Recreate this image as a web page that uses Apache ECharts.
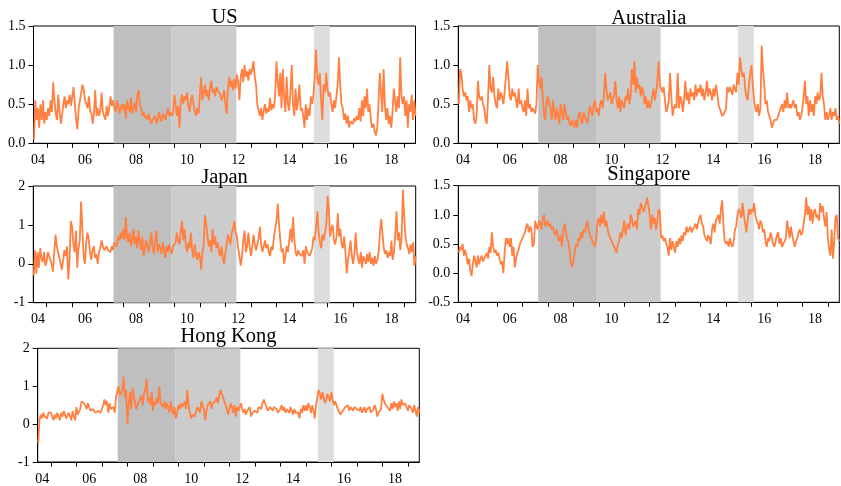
<!DOCTYPE html>
<html>
<head>
<meta charset="utf-8">
<script src="https://cdn.jsdelivr.net/npm/echarts@6/dist/echarts.min.js"></script>
<style>
html,body{margin:0;padding:0;background:#fff;}
#chart{width:841px;height:486px;}
</style>
</head>
<body>
<div id="chart"></div>
<script>
// ---- data ----
const startYear = 2004.5;   // first observation (mid-2004)
const stepYear = 0.05;      // observation spacing in years
const panelTitles = ['US', 'Australia', 'Japan', 'Singapore', 'Hong Kong'];

const usValues = [
  0.05,0.55,0.3,0.45,0.2, 0.5,0.3,0.55,0.25,0.4,
  0.3,0.45,0.35,0.55,0.4, 0.78,0.55,0.38,0.3,0.62, 0.42,0.25,0.35,0.5,0.6, 0.45,0.55,0.5,0.62,0.48,
  0.6,0.72,0.5,0.3,0.18, 0.45,0.55,0.65,0.75,0.68, 0.55,0.5,0.45,0.6,0.42, 0.38,0.25,0.38,0.68,0.35,
  0.45,0.35,0.42,0.65,0.4, 0.35,0.3,0.48,0.35,0.45, 0.6,0.48,0.55,0.45,0.4, 0.55,0.48,0.38,0.45,0.5,
  0.42,0.5,0.32,0.55,0.45, 0.4,0.58,0.38,0.45,0.52, 0.4,0.62,0.68,0.5,0.45, 0.35,0.4,0.32,0.35,0.3,
  0.38,0.3,0.25,0.3,0.28, 0.35,0.25,0.3,0.4,0.32, 0.28,0.38,0.35,0.3,0.38, 0.45,0.35,0.4,0.35,0.38,
  0.62,0.5,0.35,0.48,0.2, 0.55,0.62,0.5,0.6,0.55, 0.65,0.48,0.4,0.55,0.62, 0.5,0.4,0.35,0.45,0.38,
  0.62,0.85,0.55,0.65,0.75, 0.6,0.68,0.55,0.72,0.8, 0.65,0.7,0.6,0.72,0.68, 0.7,0.62,0.55,0.6,0.68,
  0.5,0.38,0.7,0.85,0.72, 0.8,0.68,0.82,0.7,0.88, 0.78,0.55,0.85,0.95,0.78, 1.0,0.85,0.92,0.8,0.95,
  0.88,0.95,1.05,0.85,0.75, 0.5,0.42,0.35,0.45,0.3, 0.42,0.5,0.38,0.45,0.4, 0.58,0.42,0.5,0.45,0.6,
  1.05,0.8,0.6,0.9,0.45, 0.95,0.6,0.4,0.85,0.5, 0.42,0.68,1.0,0.5,0.35, 0.7,0.42,0.55,0.75,0.42,
  0.45,0.35,0.2,0.5,0.3, 0.45,0.35,0.6,0.5,0.62, 0.85,1.2,0.85,0.75,0.9, 0.55,0.3,0.75,0.65,0.9,
  0.7,0.6,0.65,0.5,0.4, 0.55,0.45,0.6,0.75,1.1, 0.75,0.5,0.45,0.3,0.38, 0.25,0.35,0.2,0.28,0.3,
  0.25,0.32,0.28,0.35,0.3, 0.45,0.28,0.55,0.35,0.6, 0.45,0.7,0.4,0.5,0.3, 0.2,0.25,0.15,0.1,0.2,
  0.5,0.9,0.65,0.4,0.95, 0.5,0.3,0.45,0.25,0.35, 0.2,0.4,0.7,0.55,0.4, 0.6,0.45,1.1,0.6,0.5,
  0.6,0.35,0.55,0.2,0.5, 0.4,0.62,0.3,0.55,0.35
];

const australiaValues = [
  0.5,0.95,0.9,0.7,0.6, 0.65,0.55,0.6,0.4,0.55,
  0.45,0.5,0.3,0.25,0.35, 0.8,0.6,0.55,0.6,0.5, 0.45,0.3,0.25,0.6,1.0, 0.7,0.65,0.85,0.6,0.5,
  0.45,0.7,0.55,0.65,0.6, 0.5,0.65,0.85,1.05,0.85, 0.6,0.55,0.7,0.6,0.65, 0.55,0.45,0.7,0.5,0.55,
  0.45,0.4,0.55,0.35,0.7, 0.45,0.5,0.4,0.45,0.45, 0.38,0.5,1.0,0.8,0.7, 0.85,0.6,0.35,0.3,0.55,
  0.6,0.5,0.45,0.3,0.55, 0.4,0.3,0.45,0.35,0.25, 0.5,0.4,0.3,0.5,0.4, 0.3,0.35,0.25,0.22,0.3,
  0.25,0.2,0.3,0.2,0.35, 0.4,0.3,0.25,0.4,0.35, 0.3,0.25,0.38,0.48,0.4, 0.35,0.5,0.55,0.4,0.45,
  0.35,0.5,0.55,0.45,0.6, 0.9,0.7,0.55,0.6,0.65, 0.5,0.55,0.6,0.8,0.55, 0.45,0.6,0.4,0.55,0.5,
  0.45,0.6,0.55,0.7,0.5, 0.6,0.95,0.75,1.05,0.65, 0.85,0.7,0.75,0.6,0.72, 0.65,0.5,0.6,0.45,0.55,
  0.45,0.5,0.6,0.7,0.55, 0.65,0.8,1.05,0.75,0.7, 0.65,0.72,0.55,0.4,0.45, 0.55,0.9,0.6,0.35,0.45,
  0.5,0.45,0.9,0.45,0.6, 0.55,0.4,0.55,0.8,0.55, 0.65,0.5,0.7,0.6,0.65, 0.55,0.75,0.6,0.7,0.65,
  0.75,0.6,0.7,0.55,0.65, 0.8,0.6,0.7,0.65,0.55, 0.7,0.6,0.75,0.65,0.5, 0.45,0.4,0.35,0.35,0.4,
  0.45,0.72,0.65,0.72,0.7, 0.62,0.75,0.7,0.65,0.9, 0.75,1.1,0.95,0.85,0.9, 0.7,0.6,0.55,0.75,0.9,
  1.0,0.75,0.55,0.45,0.4, 0.5,0.35,0.45,1.25,0.95, 0.75,0.5,0.55,0.4,0.35, 0.3,0.2,0.25,0.3,0.28,
  0.3,0.35,0.4,0.45,0.5, 0.4,0.55,0.45,0.65,0.45, 0.5,0.45,0.5,0.55,0.45, 0.5,0.35,0.4,0.3,0.35,
  0.45,0.6,0.8,0.5,0.6, 0.35,0.55,0.4,0.5,0.35, 0.6,0.5,0.65,0.55,0.6, 0.9,0.6,0.5,0.3,0.4,
  0.3,0.35,0.45,0.3,0.4, 0.35,0.45,0.3,0.35,0.25
];

const japanValues = [
  -0.3,0.35,-0.25,0.3,-0.1, 0.4,0.15,0.05,0.3,-0.05,
  0.05,0.3,0.35,0.1,0.0, -0.2,0.3,0.75,0.45,0.3, 0.15,0.0,-0.15,0.1,0.35, 0.2,0.45,-0.4,0.1,1.1,
  0.95,0.5,0.3,0.85,-0.1, 0.4,0.6,1.6,0.9,0.2, 0.0,0.55,0.8,0.65,0.3, 0.1,0.35,0.45,0.15,0.25,
  0.0,0.3,0.4,0.6,0.55, 0.35,0.3,0.45,0.35,0.4, 0.3,0.45,0.35,0.55,0.5, 0.45,0.7,0.6,0.8,0.65,
  0.9,0.6,1.2,0.7,0.55, 0.8,0.45,0.65,0.9,0.5, 0.7,0.4,0.85,0.55,0.35, 0.7,0.2,0.4,0.6,0.45,
  0.3,0.55,0.8,0.4,0.25, 0.6,0.85,0.3,0.5,0.4, 0.25,0.55,0.35,0.15,0.45, 0.3,0.5,0.35,0.25,0.45,
  0.4,0.55,0.8,0.6,0.5, 0.8,1.1,0.6,0.9,0.5, 0.3,0.55,0.4,0.8,0.35, 0.15,0.5,0.25,0.1,0.3,
  0.2,-0.15,0.3,0.5,1.25, 1.0,0.7,0.45,0.6,0.3, 0.9,0.5,0.7,0.4,0.55, 0.3,0.2,0.45,0.15,0.0,
  0.3,0.5,0.75,0.6,0.5, 0.8,0.9,1.1,0.8,0.7, 0.4,0.2,-0.05,0.2,0.6, 0.85,0.3,0.45,0.8,0.45,
  0.2,0.45,0.75,0.5,0.35, 0.4,0.65,0.95,0.5,0.3, 0.45,0.6,0.4,0.5,0.3, 0.2,0.45,0.35,0.7,0.9,
  1.1,1.55,1.0,0.6,0.3, 0.4,0.0,0.2,0.45,0.3, 0.6,0.9,0.55,1.2,0.6, 0.3,0.2,0.35,0.25,0.3,
  0.2,0.35,0.0,0.45,0.3, 0.35,0.2,0.3,0.4,0.7, 0.6,0.95,1.35,0.8,0.55, 0.4,0.75,0.6,0.55,1.0,
  1.75,1.4,0.7,0.9,1.0, 0.6,0.5,0.7,1.3,0.7, 0.9,0.5,0.4,0.7,0.3, -0.25,0.1,0.3,0.6,0.2,
  0.0,0.25,0.8,0.3,0.1, 0.0,0.3,-0.1,0.2,0.1, 0.0,0.25,0.05,0.3,0.0, 0.15,-0.05,0.2,0.0,0.1,
  0.3,0.8,1.15,1.2,0.4, 0.25,0.35,0.15,0.3,0.2, 0.6,0.1,0.3,0.75,1.35, 0.6,0.8,0.35,0.7,1.9,
  1.2,0.7,0.5,0.4,0.25, 0.5,0.3,0.55,-0.05,0.2
];

const singaporeValues = [
  0.35,0.45,0.4,0.5,0.3, 0.4,0.3,0.15,0.25,0.05,
  -0.05,0.15,0.3,0.2,0.1, 0.3,0.15,0.25,0.3,0.2, 0.25,0.3,0.35,0.25,0.45, 0.35,0.7,0.45,0.35,0.4,
  0.3,0.35,0.25,0.15,0.2, 0.0,0.35,0.6,0.5,0.6, 0.45,0.6,0.3,0.45,0.1, 0.25,0.35,0.4,0.5,0.55,
  0.6,0.65,0.7,0.8,0.85, 0.7,0.8,0.75,0.45,0.5, 0.9,0.8,0.75,0.9,0.85, 0.75,0.95,1.0,0.8,0.85,
  0.9,0.8,0.85,0.75,0.8, 0.7,0.65,0.75,0.6,0.55, 0.65,0.45,0.7,0.85,0.75, 0.6,0.55,0.4,0.2,0.1,
  0.2,0.35,0.5,0.45,0.6, 0.55,0.7,0.6,0.75,0.7, 0.8,0.9,0.75,0.65,0.6, 0.55,0.5,0.45,0.6,0.9,
  0.95,0.8,1.0,0.85,1.05, 0.8,0.9,0.75,0.65,0.6, 0.55,0.5,0.45,0.4,0.35, 0.5,0.55,0.7,0.6,0.75,
  0.9,0.65,0.8,0.85,0.75, 1.0,0.95,0.8,0.85,0.9, 0.75,1.1,1.0,1.2,1.15, 1.05,1.1,1.2,1.3,1.15,
  1.0,0.75,1.0,0.85,0.95, 0.75,0.9,1.1,1.05,0.6, 0.65,0.55,0.6,0.5,0.45, 0.3,0.6,0.4,0.55,0.45,
  0.35,0.55,0.45,0.6,0.5, 0.65,0.55,0.7,0.65,0.8, 0.7,0.75,0.8,0.7,0.75, 0.8,0.85,0.75,0.85,0.95,
  1.0,0.85,0.8,0.65,0.6, 0.55,0.65,0.6,0.5,0.75, 0.85,0.7,0.9,0.95,1.0, 0.85,1.1,1.25,0.8,0.55,
  0.5,0.55,0.45,0.6,0.5, 0.45,0.55,0.75,0.8,1.0, 1.1,1.05,0.95,1.2,1.0, 0.85,0.7,0.9,1.1,1.0,
  1.1,1.05,1.2,1.0,0.9, 0.85,0.75,0.9,0.85,0.7, 0.75,0.55,0.45,0.6,0.55, 0.7,0.6,0.5,0.45,0.55,
  0.65,0.7,0.5,0.6,0.45, 0.5,0.55,0.6,0.9,0.75, 0.6,0.8,0.65,0.55,0.45, 0.55,0.6,0.7,0.75,0.65,
  0.7,0.85,1.0,1.3,1.0, 1.15,0.9,1.1,0.85,1.05, 1.1,0.95,1.0,0.9,1.2, 1.05,1.15,0.95,0.8,1.05,
  0.6,0.4,0.3,0.75,0.25, 0.55,0.95,1.0,0.6,0.55
];

const hongKongValues = [
  -0.5,0.1,0.25,0.15,0.3, 0.2,0.25,0.15,0.3,0.25,
  0.3,0.2,0.1,0.25,0.15, 0.3,0.25,0.1,0.3,0.2, 0.35,0.25,0.15,0.1,0.3, 0.2,0.1,0.35,0.2,0.1,
  0.45,0.25,0.3,0.4,0.6, 0.65,0.55,0.5,0.4,0.55, 0.45,0.35,0.3,0.4,0.45, 0.3,0.25,0.35,0.4,0.3,
  0.25,0.5,0.65,0.5,0.6, 0.3,0.55,0.4,0.35,0.45, 0.3,0.7,0.85,1.0,0.75, 0.8,0.9,1.25,0.7,0.9,
  0.0,0.5,0.85,0.4,0.95, 1.0,0.55,0.4,0.35,0.6, 0.65,0.75,0.5,0.8,0.9, 1.2,0.6,0.7,0.5,0.85,
  0.35,0.6,0.5,0.7,0.55, 1.0,0.55,0.6,0.45,0.6, 0.4,0.55,0.45,0.3,0.6, 0.4,0.25,0.45,0.15,0.3,
  0.5,0.4,0.55,0.45,0.5, 0.6,0.4,0.9,0.5,0.3, 0.15,0.25,0.3,0.2,0.35, 0.45,0.5,0.3,0.6,0.65,
  0.4,0.1,0.35,0.5,0.45, 0.6,0.4,0.55,0.5,0.6, 0.7,0.55,0.75,0.9,0.8, 0.85,0.6,0.5,0.4,0.25,
  0.3,0.55,0.45,0.3,0.5, 0.2,0.45,0.35,0.3,0.55, 0.4,0.3,0.4,0.25,0.35, 0.3,0.45,0.2,0.3,0.25,
  0.35,0.4,0.3,0.45,0.5, 0.4,0.55,0.65,0.55,0.45, 0.35,0.3,0.45,0.4,0.35, 0.45,0.5,0.4,0.3,0.35,
  0.4,0.5,0.35,0.45,0.3, 0.4,0.35,0.3,0.45,0.35, 0.25,0.4,0.3,0.35,0.3, 0.15,0.4,0.3,0.5,0.35,
  0.5,0.35,0.55,0.45,0.3, 0.5,0.35,0.15,0.5,0.55, 0.9,0.8,0.65,0.85,0.7, 0.55,0.65,0.8,0.75,0.6,
  0.85,0.65,0.5,0.6,0.55, 0.4,0.45,0.25,0.2,0.35, 0.3,0.45,0.4,0.5,0.35, 0.45,0.4,0.35,0.45,0.4,
  0.4,0.45,0.35,0.45,0.3, 0.35,0.45,0.3,0.4,0.35, 0.45,0.3,0.25,0.4,0.5, 0.4,0.2,0.3,0.25,0.4,
  0.8,0.65,0.55,0.5,0.45, 0.5,0.35,0.55,0.4,0.6, 0.45,0.55,0.35,0.6,0.4, 0.65,0.5,0.45,0.55,0.6,
  0.35,0.5,0.55,0.4,0.3, 0.5,0.35,0.2,0.45,0.3
];

// shaded periods (in years)
const shadePeriods = [[2007.62, 2009.89], [2009.89, 2012.43], [2015.47, 2016.09]];
// x-axis tick years and labels
const tickYears = [2005,2006,2007,2008,2009,2010,2011,2012,2013,2014,2015,2016,2017,2018,2019];
const labelYears = [2004.66,2006.5,2008.5,2010.5,2012.5,2014.5,2016.5,2018.5];
const labelTexts = ['04','06','08','10','12','14','16','18'];
// y-axis ranges per panel
const yMins = [0, 0, -1, -0.5, -1];
const yMaxs = [1.5, 1.5, 2, 1.5, 2];
const yIntervals = [0.5, 0.5, 1, 0.5, 1];
const yDecimals = [1, 1, 0, 1, 0];

// ---- layout / style ----
const seriesValues = [usValues, australiaValues, japanValues, singaporeValues, hongKongValues];
const grids = [
  {left: 33.5, top: 26, width: 382, height: 117.3},
  {left: 458.3, top: 26, width: 381, height: 117.3},
  {left: 33.3, top: 186, width: 382.4, height: 116.7},
  {left: 458.3, top: 185.7, width: 381, height: 116.6},
  {left: 37.7, top: 348.3, width: 381.6, height: 116}
];
const titleTops = [7, 8, 167, 164, 326];
const shadeColors = ['#bfbfbf', '#cccccc', '#dddddd'];
const FONT = '"Liberation Serif", "Times New Roman", serif';
const X_MIN = 2004.48, X_MAX = 2019.45;

const years = seriesValues[0].map((_, i) => +(startYear + i * stepYear).toFixed(2));

const option = {
  animation: false,
  backgroundColor: '#fff',
  title: panelTitles.map((t, i) => ({
    text: t,
    left: grids[i].left + grids[i].width / 2,
    top: titleTops[i],
    textAlign: 'center',
    padding: 0,
    textStyle: {fontFamily: FONT, fontSize: 20.5, fontWeight: 'normal', color: '#000'}
  })),
  grid: grids.map(g => Object.assign({show: true, borderColor: '#000', borderWidth: 1, containLabel: false}, g)),
  xAxis: grids.map((g, i) => ({
    type: 'value', gridIndex: i, min: X_MIN, max: X_MAX,
    axisLine: {show: true, onZero: false, lineStyle: {color: '#000', width: 1}},
    axisTick: {show: true, customValues: tickYears, length: 4.5, inside: false, lineStyle: {color: '#000'}},
    axisLabel: {
      customValues: labelYears,
      formatter: v => { const k = labelYears.findIndex(y => Math.abs(y - v) < 1e-6); return k >= 0 ? labelTexts[k] : ''; },
      fontFamily: FONT, fontSize: 14, color: '#000', margin: 10
    },
    splitLine: {show: false}
  })),
  yAxis: grids.map((g, i) => ({
    type: 'value', gridIndex: i, min: yMins[i], max: yMaxs[i], interval: yIntervals[i],
    axisLine: {show: true, onZero: false, lineStyle: {color: '#000', width: 1}},
    axisTick: {show: true, length: 5, inside: false, lineStyle: {color: '#000'}},
    axisLabel: {formatter: v => v.toFixed(yDecimals[i]), fontFamily: FONT, fontSize: 14, color: '#000', margin: 8},
    splitLine: {show: false}
  })),
  series: seriesValues.map((vals, i) => ({
    type: 'line', xAxisIndex: i, yAxisIndex: i,
    data: vals.map((v, j) => [years[j], v]),
    showSymbol: false, symbol: 'none',
    lineStyle: {color: '#ff8040', width: 1.8},
    silent: true,
    markArea: {
      silent: true,
      data: shadePeriods.map((p, k) => [{xAxis: p[0], itemStyle: {color: shadeColors[k], opacity: 1}}, {xAxis: p[1]}])
    }
  }))
};

const chart = echarts.init(document.getElementById('chart'), null, {renderer: 'canvas'});
chart.setOption(option);
</script>
</body>
</html>
